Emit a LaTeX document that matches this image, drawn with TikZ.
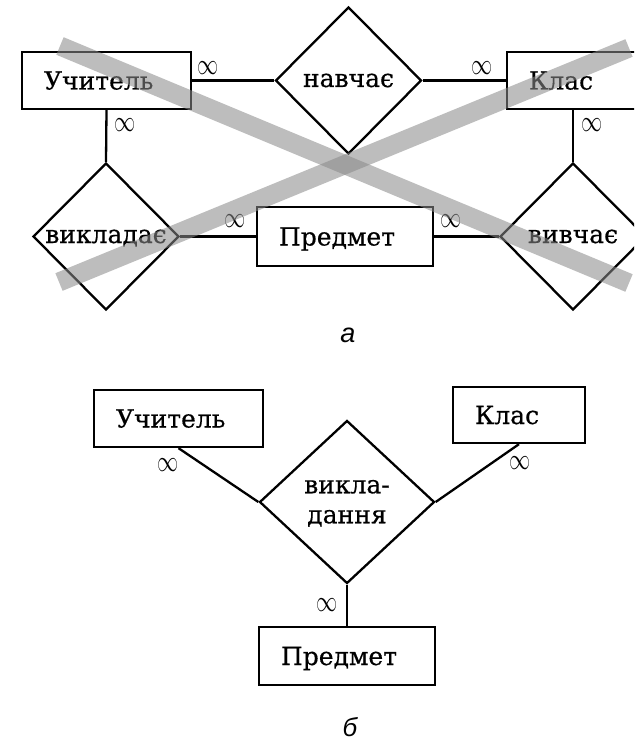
\documentclass[tikz,border=0pt]{standalone}
\usepackage{fontspec}
\setmainfont[FakeBold=0.45]{DejaVu Serif}
\newfontfamily\capfont{Liberation Sans}
\usetikzlibrary{shapes.geometric}
\definecolor{band}{gray}{0.54}
\newcommand{\entfont}{\fontsize{25}{30}\selectfont}
\newcommand{\cardfont}{\fontsize{25}{27}\selectfont}
\newcommand{\many}{\scalebox{0.85}[1.2]{$\infty$}}
\tikzset{
  entity/.style={draw, rectangle, line width=2.3pt, inner xsep=22pt, inner ysep=0pt,
    align=left, text height=18pt, text depth=0pt, font=\entfont},
  rel/.style={draw, diamond, line width=2.3pt, inner sep=0pt,
    text height=13pt, text depth=0pt, font=\entfont},
  link/.style={line width=2.3pt},
  card/.style={inner sep=0pt, font=\cardfont},
  strike/.style={line width=19pt, draw=band, draw opacity=0.56},
  caption/.style={inner sep=0pt, font=\capfont\itshape}
}
\begin{document}
\begin{tikzpicture}[x=1pt, y=-1pt]
  \clip (0,0) rectangle (634,743);
  \fill[white] (0,0) rectangle (634,743);

  % ---- variant a: three binary relationships ----
  \node[entity, text width=125pt, minimum height=57pt] (teacherA) at (106.5,80.5) {Учитель};
  \node[entity, text width=88pt, minimum height=57pt] (classA) at (573,80.5) {Клас};
  \node[entity, text width=132pt, minimum height=59pt] (subjectA) at (345,236.5) {Предмет};

  \node[rel, minimum width=146pt, minimum height=147pt] (teaches) at (348.5,80.5) {\makebox[0pt]{навчає}};
  \node[rel, minimum width=146pt, minimum height=147pt] (lectures) at (106,236.5) {\makebox[0pt]{викладає}};
  \node[rel, minimum width=146pt, minimum height=147pt] (studies) at (573,236.5) {\makebox[0pt]{вивчає}};

  \draw[link] (teacherA.east) -- (teaches.west);
  \draw[link] (teaches.east) -- (classA.west);
  \draw[link] (teacherA.south) -- (lectures.north);
  \draw[link] (lectures.east) -- (subjectA.west);
  \draw[link] (subjectA.east) -- (studies.west);
  \draw[link] (classA.south) -- (studies.north);

  \node[card] (cA1) at (208,68) {\many};
  \node[card] (cA2) at (482,68) {\many};
  \node[card] (cA3) at (125,125) {\many};
  \node[card] (cA4) at (235,221) {\many};
  \node[card] (cA5) at (451,221) {\many};
  \node[card] (cA6) at (592,125) {\many};

  \node[caption, font=\capfont\itshape\fontsize{27}{28}\selectfont] (capA) at (348,335) {а};

  % crossing-out bands over variant a
  \draw[strike] (60,46) -- (629,283);
  \draw[strike] (59,282) -- (629,48);

  % ---- variant b: one ternary relationship ----
  \node[entity, text width=125pt, minimum height=57pt] (teacherB) at (178.5,418.5) {Учитель};
  \node[entity, text width=88pt, minimum height=56pt] (classB) at (519,415) {Клас};
  \node[entity, text width=132pt, minimum height=58pt] (subjectB) at (347,656) {Предмет};

  \node[rel, minimum width=175pt, minimum height=163pt] (teaching) at (347,502)
    {\makebox[0pt]{\begin{tabular}{@{}c@{}}викла-\\дання\end{tabular}}};

  \draw[link] (teacherB.south) -- (teaching.west);
  \draw[link] (classB.south) -- (teaching.east);
  \draw[link] (teaching.south) -- (subjectB.north);

  \node[card] (cB1) at (168,465) {\many};
  \node[card] (cB2) at (520,463) {\many};
  \node[card] (cB3) at (327,605) {\many};

  \node[caption, font=\capfont\itshape\fontsize{26}{28}\selectfont] (capB) at (350,727) {б};
\end{tikzpicture}
\end{document}
